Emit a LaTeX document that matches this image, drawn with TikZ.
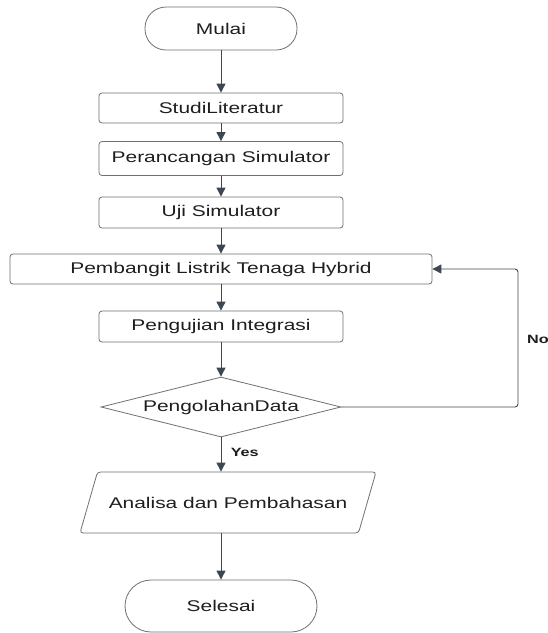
\documentclass[tikz,border=0pt]{standalone}
\usepackage{fontspec}
\setmainfont{Liberation Sans}[FakeStretch=1.35]
\usetikzlibrary{arrows.meta,shapes.geometric}
\definecolor{linegray}{HTML}{3E4653}
\definecolor{boxgray}{HTML}{707070}
\definecolor{txtgray}{HTML}{1E1E1E}

\begin{document}
\begin{tikzpicture}[
  x=1pt, y=-1pt,
  >={Triangle[length=9pt,width=9pt]},
  every node/.style = {font=\fontsize{15.5}{18}\selectfont, text=txtgray},
  proc/.style  = {
    draw=boxgray, line width=0.8pt, rounded corners=3pt,
    minimum width=\boxw, minimum height=31pt, inner sep=0pt
  },
  term/.style  = {
    draw=boxgray, line width=0.8pt, inner sep=0pt
  },
  cond/.style  = {
    diamond, aspect=4, draw=boxgray, line width=0.8pt,
    minimum width=240pt, minimum height=60pt, inner sep=0pt
  },
  io/.style    = {
    trapezium, trapezium left angle=74, trapezium right angle=106,
    trapezium stretches body, draw=boxgray, line width=0.8pt,
    rounded corners=3pt, minimum width=296pt,
    text height=11pt, text depth=0pt, inner xsep=0pt, inner ysep=25pt
  },
  flow/.style  = {->, draw=linegray, line width=0.9pt},
  lbl/.style   = {font=\bfseries\fontsize{12}{14}\selectfont}
]

% ---- constants ----
\def\boxw{244pt}      % width of the small process boxes

\useasboundingbox[fill=white] (0,0) rectangle (548,633);

% ---- nodes ----
\node[term, rounded corners=21pt, minimum width=152pt, minimum height=43pt]
  (mulai) at (221,28.5) {Mulai};
\node[proc, minimum height=30pt] (studi) at (221,108) {StudiLiteratur};
\node[proc, minimum height=34pt] (ranc)  at (221,158.5) {Perancangan Simulator};
\node[proc] (uji)   at (221,212.5) {Uji Simulator};
\node[proc, minimum width=422pt, minimum height=30pt]
  (pemb) at (221,269) {Pembangit Listrik Tenaga Hybrid};
\node[proc] (integ) at (221,326.5) {Pengujian Integrasi};
\node[cond] (olah)  at (221,407) {PengolahanData};
\node[io]   (ana)   at (228,502.5) {Analisa dan Pembahasan};
\node[term, rounded corners=26pt, minimum width=192pt, minimum height=52pt]
  (selesai) at (221,606) {Selesai};

\coordinate (balik) at (518,407);

% ---- arrows ----
\draw[flow] (mulai) -- (studi);
\draw[flow] (studi) -- (ranc);
\draw[flow] (ranc) -- (uji);
\draw[flow] (uji) -- (pemb);
\draw[flow] (pemb) -- (integ);
\draw[flow] (integ) -- (olah);
\draw[flow] (olah.south) -- (olah.south |- ana.north)
  node[lbl, pos=0.45, right=6pt] {Yes};
\draw[flow] (selesai.north |- ana.south) -- (selesai.north);

% loop back when the data is not ok
\draw[flow, rounded corners=3pt] (olah.east) -- (balik) |- (pemb.east);
\node[lbl] (no) at (538,339) {No};

\end{tikzpicture}
\end{document}
